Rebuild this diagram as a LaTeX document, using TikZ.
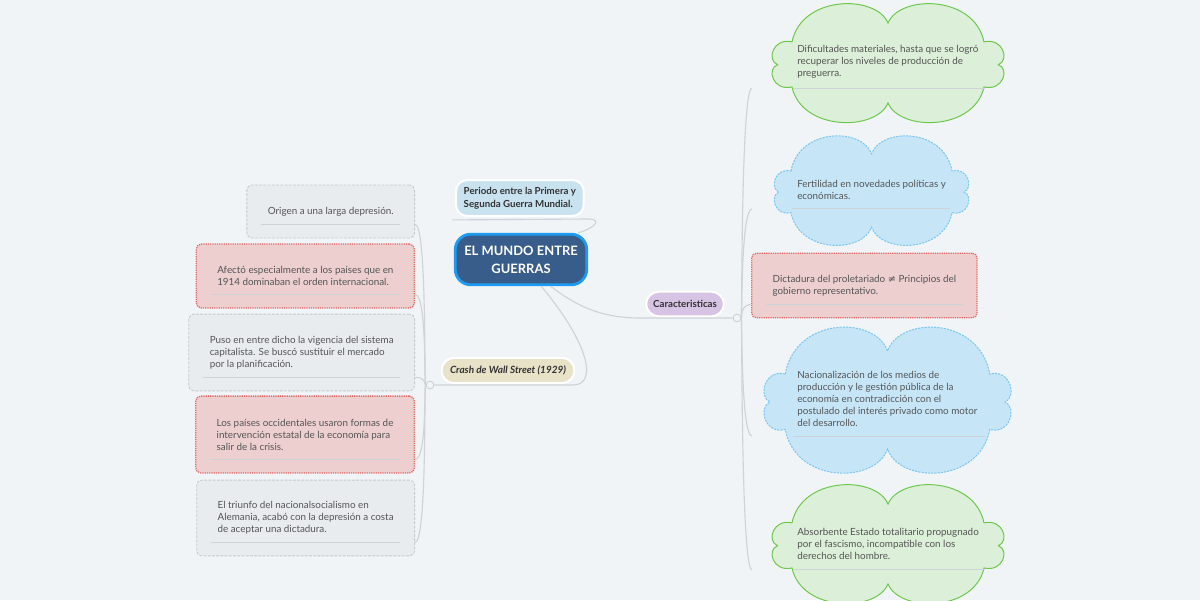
\documentclass[tikz,border=0pt]{standalone}
\usepackage{fontspec}
\setmainfont{Lato}
\newfontfamily\symfont{DejaVu Sans}
\usepackage{xcolor}
\definecolor{bgpage}{RGB}{240,244,247}
\definecolor{linegray}{RGB}{206,211,216}
\definecolor{txtdark}{RGB}{51,51,51}
\definecolor{txtbody}{RGB}{85,85,85}
\definecolor{rootfill}{RGB}{57,93,138}
\definecolor{rootline}{RGB}{30,155,240}
\definecolor{subblue}{RGB}{200,226,240}
\definecolor{subsand}{RGB}{232,226,200}
\definecolor{sublilac}{RGB}{215,196,228}
\definecolor{notegray}{RGB}{232,236,239}
\definecolor{notegrayline}{RGB}{196,202,207}
\definecolor{notepink}{RGB}{237,207,207}
\definecolor{notered}{RGB}{232,104,104}
\definecolor{cloudgreen}{RGB}{220,239,216}
\definecolor{cloudgreenline}{RGB}{108,200,74}
\definecolor{cloudblue}{RGB}{198,230,248}
\definecolor{cloudblueline}{RGB}{120,198,240}
\usepackage{tikz}
\usetikzlibrary{positioning,calc}

% cloud outline: centre x, centre y, half width, half height, path style
\newcommand{\cloudbody}[5]{%
  \begin{scope}[shift={(#1,#2)},xscale=#3,yscale=#4]
    \path[#5] (-0.835,-0.37)
      .. controls (-0.75,-1.2) and (-0.1,-1.2) .. (0,-0.7)
      .. controls (0.1,-1.2) and (0.75,-1.2) .. (0.835,-0.37)
      .. controls (1.0,-0.45) and (1.06,-0.05) .. (0.96,0.03)
      .. controls (1.06,0.1) and (1.0,0.5) .. (0.835,0.42)
      .. controls (0.75,1.2) and (0.1,1.2) .. (0,0.7)
      .. controls (-0.1,1.2) and (-0.75,1.2) .. (-0.835,0.42)
      .. controls (-1.0,0.5) and (-1.06,0.1) .. (-0.96,0.03)
      .. controls (-1.06,-0.05) and (-1.0,-0.45) .. cycle;
  \end{scope}}

\begin{document}
\begin{tikzpicture}[x=0.025cm,y=-0.025cm,
    root/.style={rectangle,rounded corners=11pt,draw=rootline,line width=2pt,fill=rootfill,
      text=white,font=\fontsize{9.2}{12.6}\selectfont\bfseries,align=center,
      minimum width=93.5pt,minimum height=36pt},
    topic/.style={rectangle,rounded corners=8pt,draw=white,line width=1.4pt,text=txtdark,
      font=\fontsize{6.9}{9.2}\selectfont\bfseries,align=left,inner xsep=5.5pt},
    note/.style={rectangle,rounded corners=3.5pt,fill=notegray,draw=notegrayline,
      dash pattern=on 2pt off 1pt,line width=0.6pt,text=txtbody,
      font=\fontsize{7}{8.5}\selectfont,align=left,inner xsep=14.9pt,anchor=east},
    notered/.style={note,fill=notepink,draw=notered,line width=0.9pt,dash pattern=on 0.9pt off 0.7pt},
    cloudtxt/.style={text=txtbody,font=\fontsize{7}{8.5}\selectfont,align=left,
      inner sep=0pt,anchor=west},
    conn/.style={draw=linegray,line width=0.8pt},
    uline/.style={draw=linegray,line width=0.6pt},
    fork/.style={circle,draw=linegray,fill=bgpage,line width=0.7pt,minimum size=5.5pt,inner sep=0pt}]
  \useasboundingbox (0,0) rectangle (1200,600);
  \fill[bgpage] (0,0) rectangle (1200,600);

  % central topic and main branches
  \node[root] (root) at (521,259.5) {EL MUNDO ENTRE\\GUERRAS};
  \node[topic,fill=subblue,anchor=west,minimum height=25.5pt] (per) at (455,198)
    {Periodo entre la Primera y\\Segunda Guerra Mundial.};
  \node[topic,fill=subsand,rounded corners=9pt,minimum height=18pt,inner xsep=6pt,
    font=\fontsize{7.1}{9.2}\selectfont\bfseries\itshape] (crash) at (508,370.5)
    {Crash de Wall Street (1929)};
  \node[topic,fill=sublilac,rounded corners=9pt,minimum height=17.5pt,inner xsep=5pt] (car) at (685,304)
    {Caracteristicas};
  \node[fork] (lfork) at (430,385) {};
  \node[fork] (rfork) at (737,318) {};

  \coordinate (perL) at ($(per.south west)+(-3,3)$);
  \draw[conn] (root.25) .. controls (595,228) and (603,219) .. (588,219) -- (perL);
  \draw[conn] (root.-53) .. controls (574,325) and (590,360) .. (586,375)
    .. controls (584,383) and (580,385) .. (570,385) -- (lfork);
  \draw[conn] (root.-42) .. controls (575,305) and (600,318) .. (640,318) -- (rfork);

  % Crash de Wall Street: notes on the left
  \node[note] (o1) at (415,211.5) [minimum height=37.6pt] {Origen a una larga depresión.};
  \node[notered] (o2) at (415,276) [minimum height=45.4pt]
    {Afectó especialmente a los países que en\\1914 dominaban el orden internacional.};
  \node[note] (o3) at (415,352.5) [minimum height=54.6pt]
    {Puso en entre dicho la vigencia del sistema\\capitalista. Se buscó sustituir el mercado\\por la planificación.};
  \node[notered] (o4) at (415,434.5) [minimum height=54.6pt]
    {Los países occidentales usaron formas de\\intervención estatal de la economía para\\salir de la crisis.};
  \node[note] (o5) at (415,518) [minimum height=53.9pt]
    {El triunfo del nacionalsocialismo en\\Alemania, acabó con la depresión a costa\\de aceptar una dictadura.};
  \foreach \n in {o1,o2,o3,o4,o5} {
    \draw[uline] ($(\n.south west)+(15,-14)$) -- ($(\n.south east)+(-15,-14)$);
    \draw[conn] (lfork) .. controls ($(lfork)+(-6,0)$) and ($(\n.south east)+(12,-14)$)
      .. ($(\n.south east)+(0,-14)$);
  }

  % Caracteristicas: clouds and note on the right
  \cloudbody{888}{63}{115}{57}{fill=cloudgreen,draw=cloudgreenline,line width=0.7pt}
  \cloudbody{871.5}{190.5}{96.5}{52.5}{fill=cloudblue,draw=cloudblueline,line width=0.7pt,dash pattern=on 1.5pt off 0.8pt}
  \cloudbody{887.5}{400}{122.5}{70}{fill=cloudblue,draw=cloudblueline,line width=0.7pt,dash pattern=on 1.5pt off 0.8pt}
  \cloudbody{888}{544}{115}{57}{fill=cloudgreen,draw=cloudgreenline,line width=0.7pt}

  \node[cloudtxt] (c1) at (797,62)
    {Dificultades materiales, hasta que se logró\\recuperar los niveles de producción de\\preguerra.};
  \node[cloudtxt] (c2) at (797,190)
    {Fertilidad en novedades políticas y\\económicas.};
  \node[notered,anchor=west,inner xsep=14.9pt,minimum height=46pt] (c3) at (751,285.5)
    {Dictadura del proletariado {\symfont ≠} Principios del\\gobierno representativo.};
  \node[cloudtxt] (c4) at (797,399)
    {Nacionalización de los medios de\\producción y le gestión pública de la\\economía en contradicción con el\\postulado del interés privado como motor\\del desarrollo.};
  \node[cloudtxt] (c5) at (797,544)
    {Absorbente Estado totalitario propugnado\\por el fascismo, incompatible con los\\derechos del hombre.};

  \draw[uline] (793,88) -- (985,88);
  \draw[uline] (792,208) -- (950,208);
  \draw[uline] ($(c3.south west)+(15,-14)$) -- ($(c3.south east)+(-15,-14)$);
  \draw[uline] (793,436) -- (985,436);
  \draw[uline] (793,569) -- (985,569);

  \coordinate (c1e) at (752,88);
  \coordinate (c2e) at (752,209);
  \coordinate (c3e) at ($(c3.south west)+(0,-14)$);
  \coordinate (c4e) at (752,436);
  \coordinate (c5e) at (752,570);
  \foreach \e in {c1e,c2e,c3e,c4e,c5e} {
    \draw[conn] (rfork) .. controls ($(rfork)+(5,0)$) and ($(\e)+(-11,0)$) .. (\e);
  }
\end{tikzpicture}
\end{document}
